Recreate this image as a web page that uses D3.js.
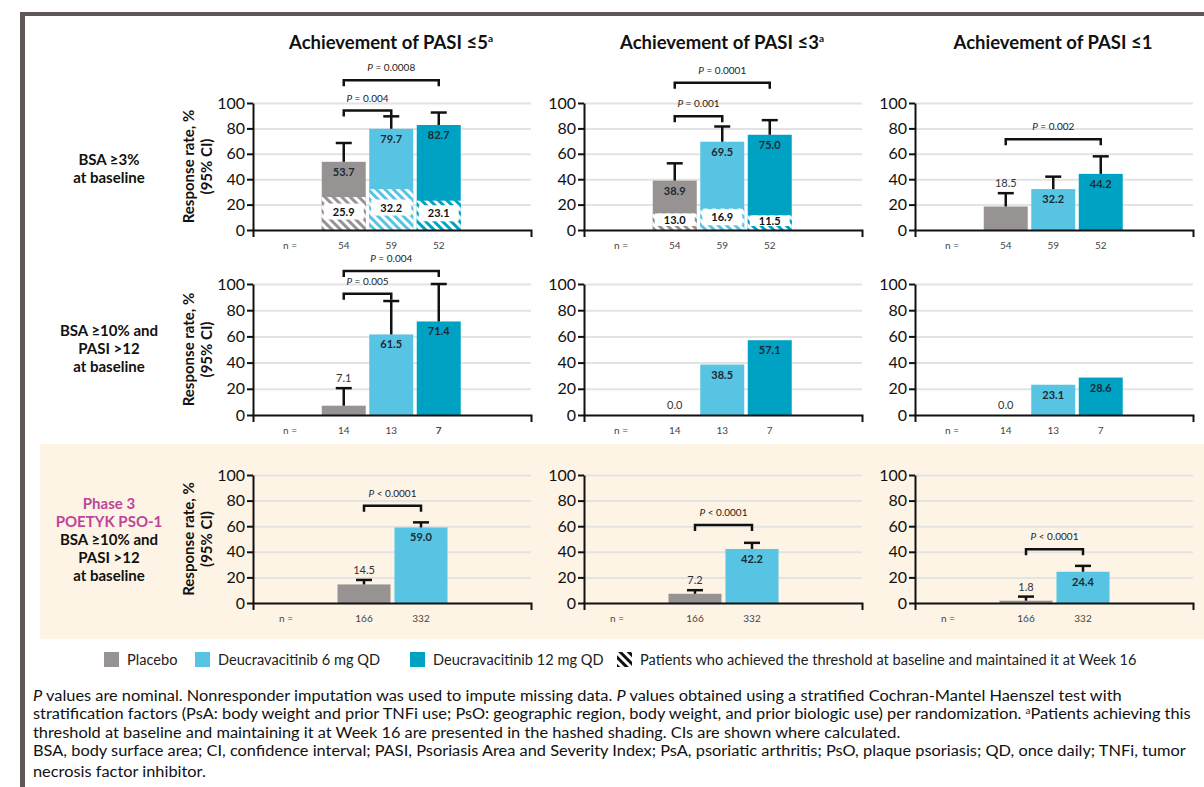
<!DOCTYPE html>
<html>
<head>
<meta charset="utf-8">
<script src="https://cdn.jsdelivr.net/npm/d3@7"></script>
<style>
  body { margin: 0; background: #fff; }
  svg { display: block; font-family: Lato, "Open Sans", sans-serif; }
</style>
</head>
<body>
<div id="chart"></div>
<script>
// column titles
const colTitles = ["Achievement of PASI \u22645", "Achievement of PASI \u22643", "Achievement of PASI \u22641"];
const colSup = ["a", "a", ""];

const groups3 = ["Placebo", "Deucravacitinib 6 mg QD", "Deucravacitinib 12 mg QD"];
const groups2 = ["Placebo", "Deucravacitinib 6 mg QD"];

// row 1: BSA >=3% at baseline
const bsa3Values = [[53.7, 79.7, 82.7], [38.9, 69.5, 75.0], [18.5, 32.2, 44.2]];
const bsa3Baseline = [[25.9, 32.2, 23.1], [13.0, 16.9, 11.5], null];
const bsa3CIUpper = [[68.5, 89.5, 92.5], [52.5, 81.5, 86.5], [29, 42, 58]];
const bsa3N = ["54", "59", "52"];
const bsa3P = [
  [{ a: 0, b: 1, y: 94, p: "= 0.004" }, { a: 0, b: 2, y: 118, p: "= 0.0008" }],
  [{ a: 0, b: 1, y: 89.5, p: "= 0.001" }, { a: 0, b: 2, y: 116, p: "= 0.0001" }],
  [{ a: 0, b: 2, y: 71.5, p: "= 0.002" }]
];

// row 2: BSA >=10% and PASI >12
const bsa10Values = [[7.1, 61.5, 71.4], [0.0, 38.5, 57.1], [0.0, 23.1, 28.6]];
const bsa10CIUpper = [[20.5, 87, 100], null, null];
const bsa10N = ["14", "13", "7"];
const bsa10P = [
  [{ a: 0, b: 1, y: 92.5, p: "= 0.005" }, { a: 0, b: 2, y: 110, p: "= 0.004" }],
  [], []
];

// row 3: POETYK PSO-1
const pso1Values = [[14.5, 59.0], [7.2, 42.2], [1.8, 24.4]];
const pso1CIUpper = [[18, 63], [10, 47], [5, 29]];
const pso1N = ["166", "332"];
const pso1P = [
  [{ a: 0, b: 1, y: 76, p: "< 0.0001" }],
  [{ a: 0, b: 1, y: 61, p: "< 0.0001" }],
  [{ a: 0, b: 1, y: 42, p: "< 0.0001" }]
];

const yTicks = [0, 20, 40, 60, 80, 100];

const colors = ["#979392", "#56c4e2", "#00a2c4"];
const frameColor = "#5f5857";

const W = 1204, H = 787;
const svg = d3.select("#chart").append("svg").attr("width", W).attr("height", H);

// hatch patterns
const defs = svg.append("defs");
function hatch(id, color) {
  const p = defs.append("pattern").attr("id", id)
    .attr("patternUnits", "userSpaceOnUse").attr("width", 6).attr("height", 6)
    .attr("patternTransform", "rotate(-45)");
  p.append("rect").attr("width", 6).attr("height", 6).attr("fill", "#fff");
  p.append("rect").attr("width", 3).attr("height", 6).attr("fill", color);
}
colors.forEach((c, i) => hatch("hatch" + i, c));
hatch("hatchK", "#111");

// frame + shaded row
svg.append("rect").attr("x", 40).attr("y", 444).attr("width", W - 40).attr("height", 195).attr("fill", "#fdf4e6");
svg.append("rect").attr("x", 20).attr("y", 12).attr("width", W - 20).attr("height", 4).attr("fill", frameColor);
svg.append("rect").attr("x", 20).attr("y", 12).attr("width", 5).attr("height", H).attr("fill", frameColor);

const axisX = [253, 584, 915];
const plotW = 278;
const rowsY = [[103, 230], [284, 415], [475, 603]];

// titles
colTitles.forEach((t, i) => {
  const tx = svg.append("text").attr("x", axisX[i] + 138).attr("y", 49)
    .attr("text-anchor", "middle").attr("font-size", 18.5).attr("font-weight", "bold").attr("fill", "#111");
  tx.append("tspan").text(t);
  if (colSup[i]) tx.append("tspan").attr("font-size", 10).attr("dy", -7).text(colSup[i]);
});

// row labels
const rowLabels = [
  [{ t: "BSA \u22653%" }, { t: "at baseline" }],
  [{ t: "BSA \u226510% and" }, { t: "PASI >12" }, { t: "at baseline" }],
  [{ t: "Phase 3", c: "#c0449a" }, { t: "POETYK PSO-1", c: "#c0449a" }, { t: "BSA \u226510% and" }, { t: "PASI >12" }, { t: "at baseline" }]
];
const rowLabelY = [165, 336, 509];
rowLabels.forEach((lines, r) => {
  lines.forEach((l, k) => {
    svg.append("text").attr("x", 109).attr("y", rowLabelY[r] + k * 18)
      .attr("text-anchor", "middle").attr("font-size", 15).attr("font-weight", "bold")
      .attr("fill", l.c || "#111").text(l.t);
  });
});

function drawPanel(r, c, values, baseline, ciUpper, nLabels, brackets, nGroups) {
  const x0 = axisX[c];
  const [top, bottom] = rowsY[r];
  const g = svg.append("g").attr("transform", `translate(${x0},0)`);
  const y = d3.scaleLinear().domain([0, 100]).range([bottom, top]);
  const x = nGroups === 3
    ? d3.scaleBand().domain(groups3).range([67, 67 + 142.5]).paddingInner(0.074).paddingOuter(0.037)
    : d3.scaleBand().domain(groups2).range([82.5, 82.5 + 114]).paddingInner(0.07).paddingOuter(0.035);
  const groups = x.domain();

  // grid
  g.append("g").call(d3.axisLeft(y).tickValues(yTicks.slice(1)).tickSize(-plotW).tickFormat(""))
    .call(s => s.select(".domain").remove())
    .call(s => s.selectAll("line").attr("stroke", "#e3e3e3").attr("stroke-width", 2));

  // bars
  groups.forEach((gName, i) => {
    const v = values[i];
    const bx = x(gName), bw = x.bandwidth();
    g.append("rect").attr("x", bx).attr("y", y(v)).attr("width", bw).attr("height", y(0) - y(v)).attr("fill", colors[i]);
    let hb = null;
    if (baseline) {
      hb = baseline[i];
      g.append("rect").attr("x", bx).attr("y", y(hb)).attr("width", bw).attr("height", y(0) - y(hb))
        .attr("fill", `url(#hatch${i})`);
    }
    const ci = ciUpper ? ciUpper[i] : null;
    if (ci != null) {
      const cx = bx + bw / 2;
      g.append("line").attr("x1", cx).attr("x2", cx).attr("y1", y(v)).attr("y2", y(ci))
        .attr("stroke", "#111").attr("stroke-width", 2.5);
      g.append("line").attr("x1", cx - 8).attr("x2", cx + 8).attr("y1", y(ci)).attr("y2", y(ci))
        .attr("stroke", "#111").attr("stroke-width", 2.5);
    }
    // value label
    const cx = bx + bw / 2;
    if (v < 20) {
      const ly = ci != null ? y(ci) - 6 : y(0) - 6;
      g.append("text").attr("x", cx).attr("y", ly).attr("text-anchor", "middle")
        .attr("font-size", 11).attr("fill", "#333").text(v.toFixed(1));
    } else {
      const ly = y(v) + 14;
      g.append("text").attr("x", cx).attr("y", ly).attr("text-anchor", "middle")
        .attr("font-size", 11).attr("font-weight", "bold").attr("fill", "#1c2a33").text(v.toFixed(1));
    }
    if (hb != null) {
      const hh = y(0) - y(hb);
      const bh = Math.min(16, hh - 4);
      let by = y(hb / 2) - bh / 2 - 2;
      if (by + bh > y(0)) by = y(0) - bh;
      g.append("rect").attr("x", bx + 2).attr("y", by).attr("width", bw - 4).attr("height", bh).attr("fill", "#fff");
      g.append("text").attr("x", cx).attr("y", by + bh / 2 + 4).attr("text-anchor", "middle")
        .attr("font-size", 11).attr("font-weight", "bold").attr("fill", "#111").text(hb.toFixed(1));
    }
  });

  // brackets
  brackets.forEach(b => {
    const xa = x(groups[b.a]) + x.bandwidth() / 2;
    const xb = x(groups[b.b]) + x.bandwidth() / 2;
    const by = y(b.y);
    g.append("path").attr("d", `M${xa},${by + 6}V${by}H${xb}V${by + 6}`)
      .attr("fill", "none").attr("stroke", "#111").attr("stroke-width", 2.5);
    const t = g.append("text").attr("x", (xa + xb) / 2).attr("y", by - 9).attr("text-anchor", "middle")
      .attr("font-size", 10).attr("fill", "#222");
    t.append("tspan").attr("font-style", "italic").text("P");
    t.append("tspan").text(" " + b.p);
  });

  // y axis
  const ya = g.append("g").call(d3.axisLeft(y).tickValues(yTicks).tickSize(6).tickSizeOuter(0));
  ya.select(".domain").attr("stroke", "#111").attr("stroke-width", 2);
  ya.selectAll(".tick line").attr("stroke", "#111").attr("stroke-width", 2);
  ya.selectAll(".tick text").attr("font-size", 16).attr("font-family", "Lato, sans-serif").attr("fill", "#111").attr("x", -8);

  // x axis frame
  const xf = d3.scaleLinear().range([0, plotW]);
  const xa = g.append("g").attr("transform", `translate(0,${bottom})`)
    .call(d3.axisBottom(xf).tickValues([]).tickSizeOuter(7));
  xa.select(".domain").attr("stroke", "#111").attr("stroke-width", 2);

  // n labels
  g.append("text").attr("x", nGroups === 3 ? 37 : 33).attr("y", bottom + 19).attr("text-anchor", "middle")
    .attr("font-size", 10).attr("fill", "#444").text("n =");
  groups.forEach((gName, i) => {
    g.append("text").attr("x", x(gName) + x.bandwidth() / 2).attr("y", bottom + 19).attr("text-anchor", "middle")
      .attr("font-size", 10).attr("fill", "#444")
      .attr("font-weight", (r === 1 && c === 0 && i === 2) ? "bold" : "normal").text(nLabels[i]);
  });

  // y title on first column
  if (c === 0) {
    const cy = (top + bottom) / 2;
    const tt = svg.append("text").attr("transform", `translate(${x0 - 59},${cy}) rotate(-90)`)
      .attr("text-anchor", "middle").attr("font-size", 15).attr("font-weight", "bold").attr("fill", "#111");
    tt.append("tspan").attr("x", 0).attr("dy", 0).text("Response rate, %");
    tt.append("tspan").attr("x", 0).attr("dy", 18).text("(95% CI)");
  }
}

for (let c = 0; c < 3; c++) {
  drawPanel(0, c, bsa3Values[c], bsa3Baseline[c], bsa3CIUpper[c], bsa3N, bsa3P[c], 3);
  drawPanel(1, c, bsa10Values[c], null, bsa10CIUpper[c], bsa10N, bsa10P[c], 3);
  drawPanel(2, c, pso1Values[c], null, pso1CIUpper[c], pso1N, pso1P[c], 2);
}

// legend
const legendItems = [
  { label: groups3[0], x: 104, fill: colors[0] },
  { label: groups3[1], x: 195, fill: colors[1] },
  { label: groups3[2], x: 410, fill: colors[2] },
  { label: "Patients who achieved the threshold at baseline and maintained it at Week 16", x: 617, fill: "url(#hatchK)" }
];
legendItems.forEach(d => {
  svg.append("rect").attr("x", d.x).attr("y", 652).attr("width", 15).attr("height", 15).attr("fill", d.fill);
  svg.append("text").attr("x", d.x + 23).attr("y", 665).attr("font-size", 14.6).attr("fill", "#222").text(d.label);
});

// footnotes
const footLines = [
  [["P", true], [" values are nominal. Nonresponder imputation was used to impute missing data. "], ["P", true], [" values obtained using a stratified Cochran-Mantel Haenszel test with"]],
  [["stratification factors (PsA: body weight and prior TNFi use; PsO: geographic region, body weight, and prior biologic use) per randomization. "], ["a", false, true], ["Patients achieving this"]],
  [["threshold at baseline and maintaining it at Week 16 are presented in the hashed shading. CIs are shown where calculated."]],
  [["BSA, body surface area; CI, confidence interval; PASI, Psoriasis Area and Severity Index; PsA, psoriatic arthritis; PsO, plaque psoriasis; QD, once daily; TNFi, tumor"]],
  [["necrosis factor inhibitor."]]
];
const footY = [701, 719, 738, 756, 777];
const foot = svg.append("g");
const footTexts = footLines.map((parts, i) => {
  const t = foot.append("text").attr("x", 33).attr("y", footY[i]).attr("font-size", 15).attr("fill", "#111");
  parts.forEach(([s, it, sup]) => {
    const sp = t.append("tspan").text(s);
    if (it) sp.attr("font-style", "italic");
    if (sup) sp.attr("font-size", 9).attr("baseline-shift", "super");
  });
  return t;
});
// stretch to the width of the original first line
const k = 1090 / footTexts[0].node().getComputedTextLength();
foot.attr("transform", `translate(33,0) scale(${k},1) translate(-33,0)`);
</script>
</body>
</html>
